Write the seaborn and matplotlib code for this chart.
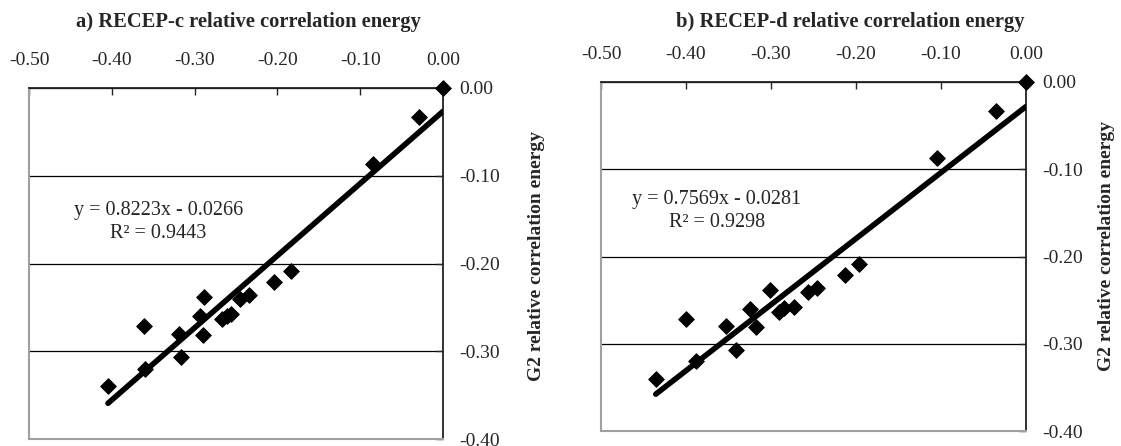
import numpy as np
import matplotlib
matplotlib.use("Agg")
import matplotlib.pyplot as plt
import seaborn as sns

# G2 relative correlation energy (same molecules in both panels)
g2_energy = [0.0, -0.0336, -0.087, -0.2087, -0.221, -0.2356, -0.241, -0.238, -0.258,
             -0.2595, -0.2637, -0.2597, -0.2811, -0.2798, -0.2717, -0.3066, -0.3202, -0.3399]

# RECEP relative correlation energies
recep_c = [0.0, -0.0295, -0.0846, -0.1839, -0.2044, -0.2344, -0.2446, -0.2885, -0.2561,
           -0.2610, -0.2672, -0.2938, -0.2897, -0.3193, -0.3615, -0.3164, -0.3595, -0.4046]
recep_d = [0.0, -0.0358, -0.1044, -0.1965, -0.2124, -0.2463, -0.2563, -0.3009, -0.2730,
           -0.2850, -0.2901, -0.3248, -0.3180, -0.3527, -0.4005, -0.3408, -0.3878, -0.4356]

# linear fits as given on the chart (slope, intercept, R^2)
fit_c = (0.8223, -0.0266, 0.9443)
fit_d = (0.7569, -0.0281, 0.9298)

titles = ["a) RECEP-c relative correlation energy", "b) RECEP-d relative correlation energy"]
x_ticks = [-0.50, -0.40, -0.30, -0.20, -0.10, 0.00]
y_ticks = [0.00, -0.10, -0.20, -0.30, -0.40]

sns.set_style("white")
plt.rcParams['font.family'] = ['Liberation Serif', 'DejaVu Serif']
plt.rcParams['axes.unicode_minus'] = False

W, H = 1121, 446
fig = plt.figure(figsize=(W / 100, H / 100), dpi=100)
ax1 = fig.add_axes([29 / W, (H - 439) / H, 414 / W, 351 / H])
ax2 = fig.add_axes([601 / W, (H - 431) / H, 425 / W, 349 / H])

# axes, x data, fit, equation position, y-label position (axes coords)
panels = [(ax1, recep_c, fit_c, (-0.344, -0.153), (1.205, 0.52)),
          (ax2, recep_d, fit_d, (-0.364, -0.148), (1.17, 0.53))]

for ax, xvals, fit, txt_pos, lab_pos in panels:
    slope, icept, r2 = fit
    sns.scatterplot(x=xvals, y=g2_energy, marker='D', s=64, color='black',
                    edgecolor='black', ax=ax, clip_on=False, zorder=5)
    xs = np.array([min(xvals), max(xvals)])
    sns.lineplot(x=xs, y=slope * xs + icept, color='black', lw=4, ax=ax, zorder=4)

    ax.set_xlim(-0.5, 0)
    ax.set_ylim(-0.4, 0)
    ax.xaxis.tick_top()
    ax.yaxis.tick_right()
    ax.yaxis.set_label_position('right')
    ax.set_xticks(x_ticks)
    ax.set_xticklabels([f"{v:.2f}" for v in x_ticks])
    ax.set_yticks(y_ticks)
    ax.set_yticklabels([f"{v:.2f}" for v in y_ticks])
    ax.tick_params(axis='x', direction='in', length=5, width=1, pad=14, labelsize=14)
    ax.tick_params(axis='y', direction='in', length=5, width=1, pad=12, labelsize=14)
    ax.yaxis.grid(True, color='black', lw=0.9)
    ax.xaxis.grid(False)
    ax.set_xlabel('')
    ax.set_ylabel('G2 relative correlation energy', fontweight='bold', fontsize=14)
    ax.yaxis.set_label_coords(*lab_pos)

    for side in ['top', 'right']:
        ax.spines[side].set_color('#222222')
        ax.spines[side].set_linewidth(1.3)
    for side in ['left', 'bottom']:
        ax.spines[side].set_color('#a0a0a0')
        ax.spines[side].set_linewidth(1.5)

    ax.text(txt_pos[0], txt_pos[1], f"y = {slope:.4f}x - {abs(icept):.4f}\nR² = {r2:.4f}",
            ha='center', va='center', fontsize=14.5, linespacing=1.3)

fig.text(248 / W, 1 - 22 / H, titles[0], ha='center', va='center', fontsize=14.8, fontweight='bold')
fig.text(850 / W, 1 - 22 / H, titles[1], ha='center', va='center', fontsize=14.8, fontweight='bold')

fig.savefig('out.png', dpi=100)
